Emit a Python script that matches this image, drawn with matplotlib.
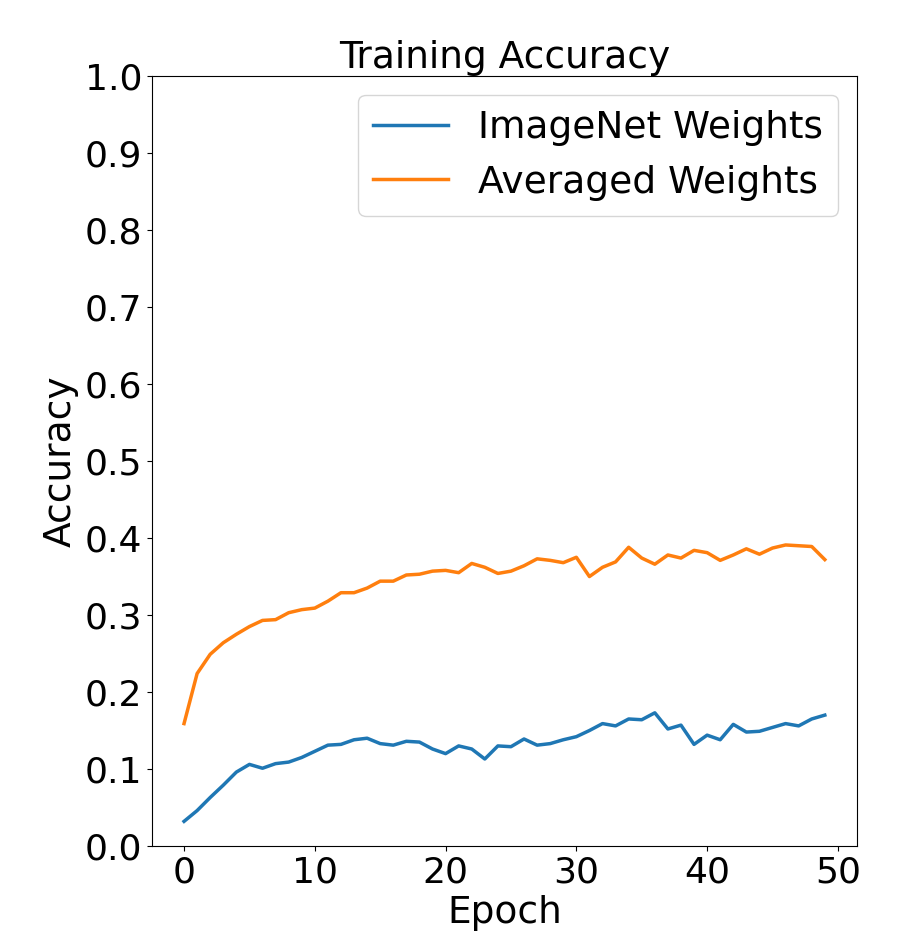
import matplotlib
matplotlib.use("Agg")
import matplotlib.pyplot as plt
import numpy as np

epochs = list(range(50))
imagenet_acc = [0.032, 0.046, 0.063, 0.079, 0.096, 0.106, 0.101, 0.107, 0.109, 0.115,
                0.123, 0.131, 0.132, 0.138, 0.140, 0.133, 0.131, 0.136, 0.135, 0.126,
                0.120, 0.130, 0.126, 0.113, 0.130, 0.129, 0.139, 0.131, 0.133, 0.138,
                0.142, 0.150, 0.159, 0.156, 0.165, 0.164, 0.173, 0.152, 0.157, 0.132,
                0.144, 0.138, 0.158, 0.148, 0.149, 0.154, 0.159, 0.156, 0.165, 0.170]
averaged_acc = [0.159, 0.224, 0.249, 0.264, 0.275, 0.285, 0.293, 0.294, 0.303, 0.307,
                0.309, 0.318, 0.329, 0.329, 0.335, 0.344, 0.344, 0.352, 0.353, 0.357,
                0.358, 0.355, 0.367, 0.362, 0.354, 0.357, 0.364, 0.373, 0.371, 0.368,
                0.375, 0.350, 0.362, 0.369, 0.388, 0.374, 0.366, 0.378, 0.374, 0.384,
                0.381, 0.371, 0.378, 0.386, 0.379, 0.387, 0.391, 0.390, 0.389, 0.372]

plt.rcParams['font.size'] = 26
fig = plt.figure(figsize=(9.01, 9.51), dpi=100)
ax = fig.add_axes([0.1687, 0.1104, 0.951 - 0.1687, 0.920 - 0.1104])
ax.plot(epochs, imagenet_acc, color='#1f77b4', lw=2.5, label='ImageNet Weights')
ax.plot(epochs, averaged_acc, color='#ff7f0e', lw=2.5, label='Averaged Weights')
ax.set_ylim(0, 1.0)
ax.set_yticks(np.arange(0, 1.01, 0.1))
ax.set_xticks([0, 10, 20, 30, 40, 50])
ax.set_title('Training Accuracy', fontsize=27)
ax.set_xlabel('Epoch', fontsize=27)
ax.set_ylabel('Accuracy', fontsize=27)
ax.legend(loc='upper right', fontsize=27)
fig.savefig('out.png', dpi=100)
